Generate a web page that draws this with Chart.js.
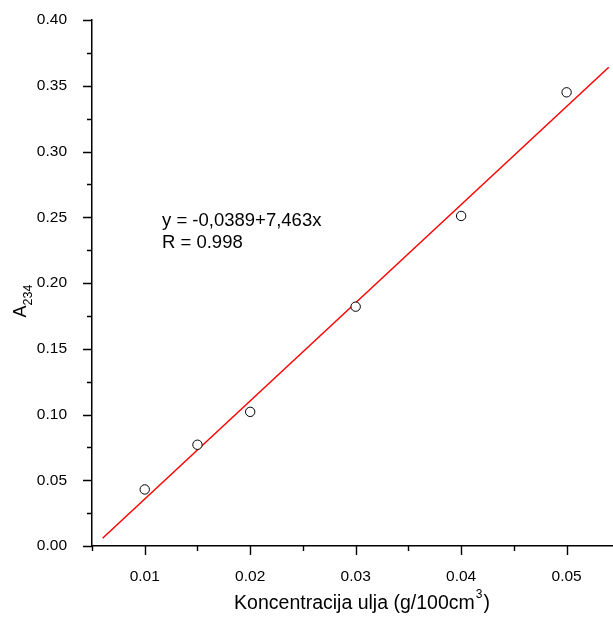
<!DOCTYPE html>
<html>
<head>
<meta charset="utf-8">
<script src="https://cdn.jsdelivr.net/npm/chart.js@4/dist/chart.umd.min.js"></script>
<style>
html,body{margin:0;padding:0;background:#fff;}
#wrap{width:613px;height:617px;}
</style>
</head>
<body>
<div id="wrap"><canvas id="c" width="613" height="617"></canvas></div>
<script>
// Data
const concentrations = [0.010, 0.015, 0.020, 0.030, 0.040, 0.050];
const absorbance = [0.043, 0.077, 0.102, 0.182, 0.251, 0.345];
const fitIntercept = -0.0389;
const fitSlope = 7.463;
const fitRange = [0.006, 0.054];
const xMajorTicks = [0.01, 0.02, 0.03, 0.04, 0.05];
const xMinorTicks = [0.005, 0.015, 0.025, 0.035, 0.045];
const yMajorTicks = [0, 0.05, 0.10, 0.15, 0.20, 0.25, 0.30, 0.35, 0.40];
const yMinorTicks = [0.025, 0.075, 0.125, 0.175, 0.225, 0.275, 0.325, 0.375];
const equationText = 'y = -0,0389+7,463x';
const rText = 'R = 0.998';
const xTitleMain = 'Koncentracija ulja (g/100cm';
const xTitleSup = '3';
const xTitleEnd = ')';
const yTitleMain = 'A';
const yTitleSub = '234';

const scatterPts = concentrations.map((x, i) => ({x: x, y: absorbance[i]}));
const fitPts = fitRange.map(x => ({x: x, y: fitIntercept + fitSlope * x}));

const FONT = '"Liberation Sans", Arial, sans-serif';

const decor = {
  id: 'decor',
  afterDraw(chart) {
    const ctx = chart.ctx;
    const xs = chart.scales.x, ys = chart.scales.y;
    const area = chart.chartArea;
    ctx.save();
    ctx.strokeStyle = '#000';
    ctx.lineWidth = 1.4;
    ctx.beginPath();
    const x0 = area.left, y0 = area.bottom;
    xMajorTicks.forEach(v => { const p = Math.round(xs.getPixelForValue(v)) + 0.5; ctx.moveTo(p, y0); ctx.lineTo(p, y0 + 9); });
    xMinorTicks.forEach(v => { const p = Math.round(xs.getPixelForValue(v)) + 0.5; ctx.moveTo(p, y0); ctx.lineTo(p, y0 + 5); });
    yMajorTicks.forEach(v => { const p = Math.round(ys.getPixelForValue(v)) + 0.5; ctx.moveTo(x0, p); ctx.lineTo(x0 - 9, p); });
    yMinorTicks.forEach(v => { const p = Math.round(ys.getPixelForValue(v)) + 0.5; ctx.moveTo(x0, p); ctx.lineTo(x0 - 5, p); });
    ctx.stroke();

    // annotation
    ctx.fillStyle = '#000';
    ctx.font = '18.5px ' + FONT;
    ctx.textBaseline = 'middle';
    ctx.textAlign = 'left';
    ctx.fillText(equationText, 162, 221);
    ctx.fillText(rText, 162, 243);

    // x title
    ctx.font = '19.5px ' + FONT;
    const w1 = ctx.measureText(xTitleMain).width;
    ctx.font = '12px ' + FONT;
    const w2 = ctx.measureText(xTitleSup).width;
    ctx.font = '19.5px ' + FONT;
    const w3 = ctx.measureText(xTitleEnd).width;
    const total = w1 + w2 + w3 + 2;
    let tx = 362 - total / 2;
    const ty = 609;
    ctx.textBaseline = 'alphabetic';
    ctx.fillText(xTitleMain, tx, ty);
    ctx.font = '12px ' + FONT;
    ctx.fillText(xTitleSup, tx + w1 + 1, ty - 11);
    ctx.font = '19.5px ' + FONT;
    ctx.fillText(xTitleEnd, tx + w1 + w2 + 2, ty);

    // y title
    ctx.translate(26, 301);
    ctx.rotate(-Math.PI / 2);
    ctx.font = '18px ' + FONT;
    const a = ctx.measureText(yTitleMain).width;
    ctx.font = '12.5px ' + FONT;
    const s = ctx.measureText(yTitleSub).width;
    const start = -(a + s) / 2;
    ctx.font = '18px ' + FONT;
    ctx.fillText(yTitleMain, start, 0);
    ctx.font = '12.5px ' + FONT;
    ctx.fillText(yTitleSub, start + a, 6);
    ctx.restore();
  }
};

new Chart(document.getElementById('c'), {
  type: 'scatter',
  data: {
    datasets: [
      {
        type: 'line',
        data: fitPts,
        borderColor: '#ff0000',
        borderWidth: 1.5,
        pointRadius: 0,
        fill: false,
        tension: 0,
        order: 2
      },
      {
        data: scatterPts,
        pointStyle: 'circle',
        pointRadius: 4.7,
        pointBackgroundColor: '#ffffff',
        pointBorderColor: '#000000',
        pointBorderWidth: 1,
        showLine: false,
        order: 1
      }
    ]
  },
  options: {
    responsive: false,
    animation: false,
    layout: {autoPadding: false, padding: {top: 20, right: 0, left: 0, bottom: 0}},
    plugins: {legend: {display: false}, tooltip: {enabled: false}},
    scales: {
      x: {
        type: 'linear',
        min: 0.005,
        max: 0.0544,
        afterBuildTicks: (sc) => { sc.ticks = xMajorTicks.map(v => ({value: v})); },
        afterFit: (sc) => { sc.height = 71; sc.paddingLeft = 0; sc.paddingRight = 0; },
        grid: {display: false},
        border: {display: true, color: '#000', width: 1.5},
        ticks: {
          color: '#000',
          font: {family: FONT, size: 15.5},
          padding: 13,
          maxRotation: 0,
          callback: (v) => v.toFixed(2)
        }
      },
      y: {
        type: 'linear',
        min: 0,
        max: 0.4,
        afterBuildTicks: (sc) => { sc.ticks = yMajorTicks.map(v => ({value: v})); },
        afterFit: (sc) => { sc.width = 92; sc.paddingTop = 0; sc.paddingBottom = 0; },
        grid: {display: false},
        border: {display: true, color: '#000', width: 1.5},
        ticks: {
          color: '#000',
          font: {family: FONT, size: 15.5},
          padding: 17,
          callback: (v) => v.toFixed(2)
        }
      }
    }
  },
  plugins: [decor]
});
</script>
</body>
</html>
